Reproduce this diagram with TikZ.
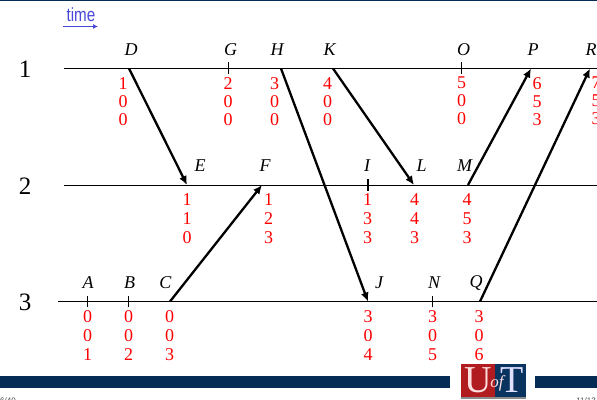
\documentclass[tikz,border=0pt]{standalone}
\usepackage{fontspec}
\setmainfont{Liberation Serif}
\setsansfont{Liberation Sans}
\usetikzlibrary{arrows.meta}
\definecolor{navy}{HTML}{042C54}
\definecolor{uftred}{HTML}{B01C20}
\definecolor{uftblue}{HTML}{0A3460}
\definecolor{timeblue}{HTML}{4848D8}
\tikzset{
  x=1bp,y=-1bp,
  tl/.style={line width=1bp,black},
  tick/.style={line width=1bp,black},
  msg/.style={line width=2.3bp,black,-{Latex[length=9bp,width=8bp]}},
  lab/.style={inner sep=0pt,font=\fontsize{18bp}{18bp}\selectfont\itshape},
  proc/.style={inner sep=0pt,font=\fontsize{25bp}{25bp}\selectfont},
  vec/.style={inner sep=0pt,text=red,align=center,font=\fontsize{18bp}{19bp}\selectfont},
  vecone/.style={inner sep=0pt,text=red,align=center,font=\fontsize{18bp}{18bp}\selectfont},
  foot/.style={inner sep=0pt,font=\sffamily\fontsize{8bp}{8bp}\selectfont,text=black!70}
}
\newcommand{\evlabel}[4]{\node[lab] (#1) at (#2,#3) {#4};}
\newcommand{\vc}[6]{\node[vec,anchor=north] (#1) at (#2,#3) {#4\\#5\\#6};}
\newcommand{\vcone}[5]{\node[vecone,anchor=north] (#1) at (#2,77) {#3\\#4\\#5};}
\begin{document}
\begin{tikzpicture}
\useasboundingbox (0,0) rectangle (597,399);
\fill[navy] (0,0) rectangle (597,1);
% time
\node[inner sep=0pt,text=timeblue,font=\sffamily\fontsize{19bp}{19bp}\selectfont,xscale=.8] (timelab) at (81,14.5) {time};
\coordinate (t0) at (63,26.5); \coordinate (t1) at (98,26.5);
\draw[timeblue,line width=1.4bp,-{Latex[length=5bp,width=5bp]}] (t0) -- (t1);
% process lines
\coordinate (l1a) at (64,68.5); \coordinate (l1b) at (597,68.5);
\coordinate (l2a) at (64,185); \coordinate (l2b) at (597,185);
\coordinate (l3a) at (58,301.5); \coordinate (l3b) at (597,301.5);
\draw[tl] (l1a) -- (l1b);
\draw[tl] (l2a) -- (l2b);
\draw[tl] (l3a) -- (l3b);
\node[proc] (p1) at (25,69) {1};
\node[proc] (p2) at (25,186) {2};
\node[proc] (p3) at (25,302) {3};
% event labels
\evlabel{D}{131}{49.5}{D}
\evlabel{G}{230.5}{49.5}{G}
\evlabel{H}{277}{49.5}{H}
\evlabel{K}{329.5}{49.5}{K}
\evlabel{O}{463.5}{49.5}{O}
\evlabel{P}{533}{49.5}{P}
\evlabel{R}{591}{49.5}{R}
\evlabel{E}{200}{166}{E}
\evlabel{F}{265}{166}{F}
\evlabel{I}{367}{166}{I}
\evlabel{L}{421.5}{166}{L}
\evlabel{M}{464.5}{166}{M}
\evlabel{A}{88}{283}{A}
\evlabel{B}{129.5}{283}{B}
\evlabel{C}{165.5}{283}{C}
\evlabel{J}{379}{283}{J}
\evlabel{N}{434}{283}{N}
\evlabel{Q}{476}{283}{Q}
% ticks
\draw[tick] (228.5,62) -- (228.5,73.5);
\draw[tick] (461.5,62) -- (461.5,73.5);
\draw[tick,line width=1.4bp] (368,179) -- (368,191);
\draw[tick] (87.5,296) -- (87.5,307);
\draw[tick] (128.5,296) -- (128.5,307);
\draw[tick] (432.5,296) -- (432.5,307);
% messages
\coordinate (sD) at (129,68.5); \coordinate (eE) at (187,185);
\coordinate (sH) at (281,68.5); \coordinate (eJ) at (368,301.5);
\coordinate (sK) at (333,68.5); \coordinate (eL) at (414,185);
\coordinate (sC) at (170,301.5); \coordinate (eF) at (262,185);
\coordinate (sM) at (468,185); \coordinate (eP) at (531,68.5);
\coordinate (sQ) at (480,301.5); \coordinate (eR) at (590,68.5);
\draw[msg] (sD) -- (eE);
\draw[msg] (sH) -- (eJ);
\draw[msg] (sK) -- (eL);
\draw[msg] (sC) -- (eF);
\draw[msg] (sM) -- (eP);
\draw[msg] (sQ) -- (eR);
% vectors
\vcone{vD}{123}{1}{0}{0}
\vcone{vG}{228}{2}{0}{0}
\vcone{vH}{274.5}{3}{0}{0}
\vcone{vK}{327.5}{4}{0}{0}
\vcone{vO}{461.5}{5}{0}{0}
\vcone{vP}{537}{6}{5}{3}
\vcone{vR}{596}{7}{5}{3}
\vc{vE}{187}{193}{1}{1}{0}
\vc{vF}{268.5}{193}{1}{2}{3}
\vc{vI}{367.5}{193}{1}{3}{3}
\vc{vL}{414.5}{193}{4}{4}{3}
\vc{vM}{467}{193}{4}{5}{3}
\vc{vA}{87.5}{310}{0}{0}{1}
\vc{vB}{128.5}{310}{0}{0}{2}
\vc{vC}{169.5}{310}{0}{0}{3}
\vc{vJ}{368}{310}{3}{0}{4}
\vc{vN}{432.5}{310}{3}{0}{5}
\vc{vQ}{479}{310}{3}{0}{6}
% footer
\fill[navy] (0,376) rectangle (450,388);
\fill[navy] (535,376) rectangle (597,388);
\fill[uftred] (461,364) rectangle (494.5,399);
\fill[uftblue] (494.5,364) rectangle (526,399);
\fill[black!45] (461,396.5) rectangle (526,399);
\node[inner sep=0pt,text=white!88!red,font=\fontsize{38bp}{38bp}\selectfont] (ufU) at (478,380) {U};
\node[inner sep=0pt,text=white!88!blue,font=\fontsize{38bp}{38bp}\selectfont] (ufT) at (512.5,380) {T};
\node[inner sep=0pt,text=white!88!red,font=\fontsize{17bp}{17bp}\selectfont\itshape] (ufof) at (497,383) {of};
\node[foot,anchor=west] (pgl) at (0,401) {6/40};
\node[foot,anchor=east] (pgr) at (596,401) {11/13};
\end{tikzpicture}
\end{document}
